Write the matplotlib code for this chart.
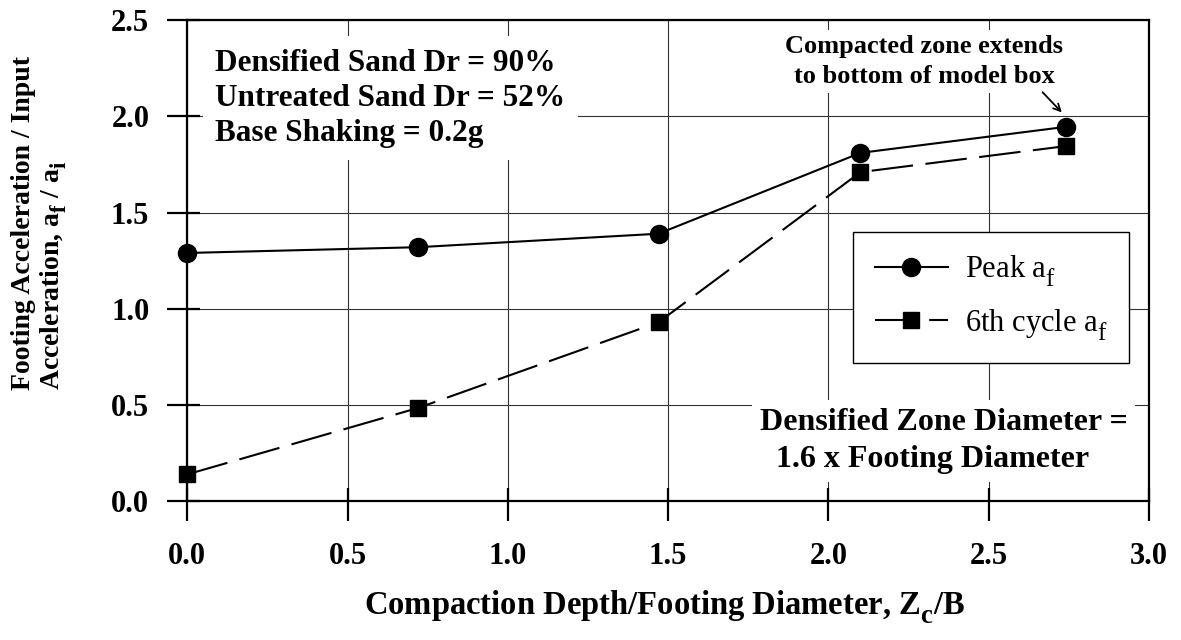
import matplotlib
matplotlib.use('Agg')
import matplotlib.pyplot as plt
import numpy as np

# Data
depth_ratio = [0.0, 0.72, 1.47, 2.10, 2.74]          # Zc/B
peak_af = [1.29, 1.32, 1.39, 1.81, 1.945]
sixth_cycle_af = [0.14, 0.485, 0.93, 1.71, 1.845]

x_ticks = [0.0, 0.5, 1.0, 1.5, 2.0, 2.5, 3.0]
y_ticks = [0.0, 0.5, 1.0, 1.5, 2.0, 2.5]

FONT = 'Liberation Serif'
plt.rcParams['font.family'] = FONT
plt.rcParams['mathtext.fontset'] = 'custom'
plt.rcParams['mathtext.rm'] = FONT
plt.rcParams['mathtext.bf'] = FONT + ':bold'
plt.rcParams['mathtext.it'] = FONT + ':italic'

# subscripts in the original are larger and sit lower than mathtext's default
try:
    import matplotlib._mathtext as _mt
    _mt.SHRINK_FACTOR = 0.82
    _mt.FontConstantsBase.sub1 = 0.6
    _mt.FontConstantsBase.sub2 = 0.8
except Exception:
    pass


def make_chart():
    fig = plt.figure(figsize=(11.81, 6.40), dpi=100)
    ax = fig.add_axes([0.1586, 0.2167, 0.8143, 0.752])

    ax.plot(depth_ratio, peak_af, color='black', lw=1.5, marker='o',
            markersize=13, label=r'Peak a$_\mathrm{f}$', clip_on=False, zorder=4)
    ax.plot(depth_ratio, sixth_cycle_af, color='black', lw=1.5, marker='s',
            markersize=11, dashes=(20, 6), label=r'6th cycle a$_\mathrm{f}$',
            clip_on=False, zorder=4)

    ax.set_xlim(0, 3.0)
    ax.set_ylim(0, 2.5)
    ax.set_xticks(x_ticks)
    ax.set_yticks(y_ticks)
    ax.set_xticklabels([f'{v:.1f}' for v in x_ticks])
    ax.set_yticklabels([f'{v:.1f}' for v in y_ticks])

    # ticks poke out more than in: major out + minor in at same spots
    ax.set_xticks(x_ticks, minor=True)
    ax.set_yticks(y_ticks, minor=True)
    ax.xaxis.remove_overlapping_locs = False
    ax.yaxis.remove_overlapping_locs = False
    ax.tick_params(which='major', direction='out', length=14.4, width=1.6,
                   labelsize=22, pad=15)
    ax.tick_params(axis='y', which='major', pad=13)
    ax.tick_params(which='minor', direction='in', length=9.4, width=1.6)
    for lbl in ax.get_xticklabels() + ax.get_yticklabels():
        lbl.set_fontweight('bold')

    ax.grid(True, which='major', color='#333333', lw=0.8, zorder=0)
    ax.set_axisbelow(True)
    for sp in ax.spines.values():
        sp.set_linewidth(1.6)
        sp.set_zorder(5)

    # Axis labels
    fig.text(665 / 1181, 1 - 607 / 640,
             r'Compaction Depth/Footing Diameter, Z$_\mathbf{c}$/B',
             ha='center', va='center', fontsize=23.5, fontweight='bold')
    fig.text(40 / 1181, 1 - 223 / 640,
             'Footing Acceleration / Input\n'
             r'Acceleration, a$_\mathbf{f}$ / a$_\mathbf{i}$',
             ha='center', va='center', rotation=90, multialignment='left',
             fontsize=20, fontweight='bold', linespacing=1.1)

    # Annotations
    ax.text(0.029, 0.94,
            'Densified Sand Dr = 90%\nUntreated Sand Dr = 52%\nBase Shaking = 0.2g',
            transform=ax.transAxes, ha='left', va='top', fontsize=22.5,
            fontweight='bold', linespacing=1.27, zorder=3,
            bbox=dict(boxstyle='square,pad=0.4', facecolor='white', edgecolor='none'))

    ax.text(0.595, 0.193,
            'Densified Zone Diameter =\n  1.6 x Footing Diameter',
            transform=ax.transAxes, ha='left', va='top', fontsize=23,
            fontweight='bold', linespacing=1.36, zorder=3,
            bbox=dict(boxstyle='square,pad=0.25', facecolor='white', edgecolor='none'))

    ax.text(2.298, 2.285, 'Compacted zone extends\nto bottom of model box',
            ha='center', va='center', fontsize=19, fontweight='bold',
            linespacing=1.38, zorder=3,
            bbox=dict(boxstyle='square,pad=0.2', facecolor='white', edgecolor='none'))
    ax.annotate('', xy=(2.728, 2.02), xytext=(2.668, 2.125),
                arrowprops=dict(arrowstyle='->,head_length=0.5,head_width=0.25',
                                color='black', lw=1.3, shrinkA=0, shrinkB=0),
                zorder=4)

    leg = ax.legend(loc='upper right', bbox_to_anchor=(0.979, 0.5595),
                    borderaxespad=0, fontsize=22, frameon=True, fancybox=False,
                    edgecolor='black', framealpha=1, handlelength=2.4,
                    handletextpad=0.55, labelspacing=0.6, borderpad=0.7)
    leg.get_frame().set_linewidth(1.0)
    leg.set_zorder(6)

    fig.savefig('out.png', dpi=100, facecolor='white')
    plt.close(fig)


if __name__ == '__main__':
    make_chart()
